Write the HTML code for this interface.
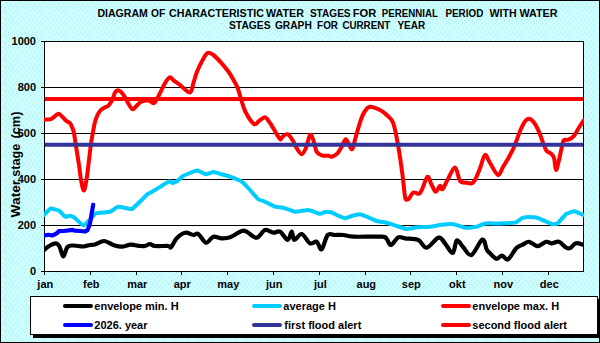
<!DOCTYPE html>
<html><head><meta charset="utf-8"><style>
html,body{margin:0;padding:0;background:#CCFFFF;}
svg{display:block;}
text{font-family:"Liberation Sans",sans-serif;font-weight:bold;fill:#000;}
</style></head><body>
<svg width="600" height="343" viewBox="0 0 600 343">
<defs>
<pattern id="dots" width="12" height="12" patternUnits="userSpaceOnUse"><rect width="12" height="12" fill="#CCFFFF"/><rect x="1" y="1" width="1" height="1" fill="#B2E6EF"/><rect x="5" y="0" width="1" height="1" fill="#B2E6EF"/><rect x="9" y="2" width="1" height="1" fill="#B2E6EF"/><rect x="3" y="4" width="1" height="1" fill="#B2E6EF"/><rect x="7" y="5" width="1" height="1" fill="#B2E6EF"/><rect x="11" y="6" width="1" height="1" fill="#B2E6EF"/><rect x="0" y="8" width="1" height="1" fill="#B2E6EF"/><rect x="4" y="9" width="1" height="1" fill="#B2E6EF"/><rect x="8" y="8" width="1" height="1" fill="#B2E6EF"/><rect x="2" y="11" width="1" height="1" fill="#B2E6EF"/><rect x="6" y="11" width="1" height="1" fill="#B2E6EF"/><rect x="10" y="10" width="1" height="1" fill="#B2E6EF"/><rect x="6" y="2" width="1" height="1" fill="#B2E6EF"/><rect x="10" y="4" width="1" height="1" fill="#B2E6EF"/><rect x="1" y="6" width="1" height="1" fill="#B2E6EF"/><rect x="5" y="7" width="1" height="1" fill="#B2E6EF"/></pattern>
<clipPath id="plotclip"><rect x="44" y="41" width="540" height="230"/></clipPath>
</defs>
<rect x="0" y="0" width="600" height="343" fill="url(#dots)"/>
<rect x="0.5" y="0.5" width="599" height="342" fill="none" stroke="#000" stroke-width="1"/>
<rect x="44" y="41" width="540" height="230" fill="#fff"/>
<g stroke="#000" stroke-width="1" shape-rendering="crispEdges"><line x1="44" y1="225.5" x2="584" y2="225.5"/><line x1="44" y1="179.5" x2="584" y2="179.5"/><line x1="44" y1="133.5" x2="584" y2="133.5"/><line x1="44" y1="87.5" x2="584" y2="87.5"/><line x1="41" y1="271.5" x2="44" y2="271.5"/><line x1="41" y1="225.5" x2="44" y2="225.5"/><line x1="41" y1="179.5" x2="44" y2="179.5"/><line x1="41" y1="133.5" x2="44" y2="133.5"/><line x1="41" y1="87.5" x2="44" y2="87.5"/><line x1="41" y1="41.5" x2="44" y2="41.5"/><line x1="44.5" y1="272" x2="44.5" y2="275"/><line x1="90.5" y1="272" x2="90.5" y2="275"/><line x1="136.5" y1="272" x2="136.5" y2="275"/><line x1="181.5" y1="272" x2="181.5" y2="275"/><line x1="227.5" y1="272" x2="227.5" y2="275"/><line x1="273.5" y1="272" x2="273.5" y2="275"/><line x1="319.5" y1="272" x2="319.5" y2="275"/><line x1="365.5" y1="272" x2="365.5" y2="275"/><line x1="410.5" y1="272" x2="410.5" y2="275"/><line x1="456.5" y1="272" x2="456.5" y2="275"/><line x1="502.5" y1="272" x2="502.5" y2="275"/><line x1="548.5" y1="272" x2="548.5" y2="275"/>
<line x1="44.5" y1="41" x2="44.5" y2="272"/>
<line x1="44" y1="271.5" x2="584" y2="271.5"/>
<line x1="44" y1="41.5" x2="584" y2="41.5"/>
<line x1="583.5" y1="41" x2="583.5" y2="271"/>
</g>
<g fill="none" stroke-linejoin="round" stroke-linecap="round" clip-path="url(#plotclip)">
<path d="M44.0 250.0 C45.0 249.2 48.0 246.6 50.0 245.5 C52.0 244.4 54.2 243.1 55.8 243.3 C57.4 243.5 58.2 244.3 59.5 246.5 C60.8 248.7 62.0 256.4 63.3 256.5 C64.6 256.6 65.8 248.8 67.5 247.0 C69.2 245.2 70.7 245.6 73.3 245.5 C75.9 245.4 80.5 246.6 83.3 246.5 C86.1 246.4 88.0 245.3 90.0 245.0 C92.0 244.7 92.6 245.2 95.0 244.5 C97.4 243.8 101.2 240.9 104.2 241.0 C107.2 241.1 110.4 244.1 113.3 245.0 C116.2 245.9 118.8 246.8 121.7 246.7 C124.6 246.6 127.8 244.8 130.8 244.7 C133.9 244.6 137.6 245.8 140.0 246.0 C142.4 246.2 143.3 246.3 145.0 246.0 C146.7 245.7 148.3 244.0 150.0 244.0 C151.7 244.0 151.9 245.7 155.0 246.0 C158.1 246.3 165.6 245.8 168.3 246.0 C171.0 246.2 169.6 248.6 171.0 247.3 C172.4 246.0 174.4 240.7 176.7 238.3 C179.0 235.9 182.2 233.2 185.0 232.7 C187.8 232.1 191.1 234.8 193.3 235.0 C195.5 235.2 196.2 232.7 198.3 234.0 C200.4 235.3 203.5 242.2 206.0 242.7 C208.5 243.1 210.7 237.4 213.3 236.7 C215.9 236.0 218.9 238.2 221.7 238.3 C224.5 238.4 226.7 238.5 230.0 237.3 C233.3 236.1 238.9 231.9 241.7 231.0 C244.5 230.1 244.2 230.6 246.7 231.7 C249.2 232.8 253.6 238.0 256.7 237.7 C259.8 237.4 262.2 230.8 265.0 230.0 C267.8 229.2 270.8 232.4 273.3 232.7 C275.8 233.0 277.6 230.5 280.0 231.7 C282.4 232.9 285.8 240.0 287.7 240.0 C289.6 240.0 290.6 231.7 291.7 231.7 C292.8 231.7 292.6 239.6 294.3 240.0 C296.0 240.4 299.1 233.4 301.7 234.0 C304.3 234.6 307.5 242.0 310.0 243.3 C312.5 244.6 314.8 240.7 316.7 241.7 C318.6 242.7 319.9 250.4 321.7 249.3 C323.5 248.2 325.5 237.4 327.7 235.0 C329.9 232.6 332.4 235.0 335.0 235.0 C337.6 235.0 340.2 234.7 343.3 235.0 C346.4 235.3 346.9 236.4 353.3 236.7 C359.7 237.0 376.1 236.3 381.7 236.7 C387.3 237.1 385.1 237.6 386.7 239.0 C388.2 240.4 389.1 245.3 391.0 245.0 C392.9 244.7 396.0 238.4 398.3 237.3 C400.6 236.2 401.7 237.9 405.0 238.3 C408.3 238.8 414.7 238.4 418.3 240.0 C421.9 241.6 423.3 248.1 426.7 247.7 C430.1 247.3 435.4 238.3 438.5 237.6 C441.6 236.9 442.6 240.7 445.0 243.3 C447.4 245.9 450.7 253.5 452.7 253.0 C454.7 252.5 455.1 241.3 456.9 240.4 C458.7 239.5 460.9 244.9 463.3 247.3 C465.7 249.7 468.3 256.3 471.5 255.0 C474.7 253.7 479.9 240.5 482.4 239.6 C484.9 238.7 485.4 247.2 486.7 249.5 C488.0 251.8 488.4 251.8 490.0 253.3 C491.6 254.9 494.6 258.4 496.6 258.8 C498.6 259.2 500.1 255.4 502.0 255.5 C503.9 255.6 505.6 260.6 508.0 259.4 C510.4 258.2 513.9 250.6 516.4 248.1 C518.9 245.6 521.2 245.4 523.3 244.3 C525.4 243.2 526.8 241.5 529.2 241.8 C531.6 242.1 534.8 246.1 537.6 246.1 C540.4 246.1 543.7 242.3 546.1 241.8 C548.5 241.3 549.7 243.3 551.8 243.3 C553.9 243.3 556.5 241.1 558.9 241.8 C561.3 242.5 564.1 246.4 566.0 247.5 C567.9 248.6 568.6 248.8 570.2 248.1 C571.9 247.4 573.8 243.9 575.9 243.3 C578.0 242.7 581.8 244.5 583.0 244.7" stroke="#000" stroke-width="4.2"/>
<path d="M44.0 215.0 C44.5 214.6 49.8 208.8 50.8 208.5 C51.8 208.2 58.3 210.3 59.2 210.8 C60.1 211.3 64.3 216.4 65.0 216.7 C65.7 217.0 69.4 215.7 70.0 215.8 C70.6 215.9 73.3 216.9 74.2 217.5 C75.1 218.1 82.4 225.4 83.5 225.5 C84.6 225.6 89.2 220.3 90.0 219.5 C90.8 218.7 94.5 213.8 95.8 213.3 C97.1 212.8 108.5 212.2 110.0 211.8 C111.5 211.4 116.6 207.0 118.0 206.8 C119.4 206.6 130.2 209.4 131.7 209.0 C133.2 208.6 139.7 201.8 140.8 200.8 C141.9 199.8 146.6 194.9 147.5 194.2 C148.4 193.5 154.1 190.6 155.0 190.0 C155.9 189.4 160.8 186.4 161.7 185.8 C162.6 185.2 168.5 181.5 169.2 181.3 C169.9 181.1 171.9 183.0 172.5 183.0 C173.1 183.0 176.8 181.3 177.5 180.8 C178.2 180.3 182.5 176.3 183.3 175.8 C184.1 175.3 189.1 173.4 190.0 173.0 C190.9 172.6 196.4 170.4 197.5 170.5 C198.6 170.6 204.7 174.1 205.8 174.2 C206.9 174.3 212.2 172.0 213.3 172.0 C214.4 172.0 220.6 173.9 221.7 174.2 C222.8 174.5 228.7 176.2 230.0 176.7 C231.3 177.2 240.4 180.8 241.7 181.7 C243.0 182.6 248.9 188.8 250.0 190.0 C251.1 191.2 257.3 198.5 258.3 199.3 C259.3 200.1 263.9 201.2 265.0 201.7 C266.1 202.2 273.8 206.3 275.0 206.7 C276.2 207.1 282.0 207.4 283.3 207.7 C284.6 208.0 293.3 211.5 295.0 211.7 C296.7 211.9 306.6 209.9 308.3 210.0 C310.0 210.1 318.9 213.7 320.0 213.8 C321.1 213.9 324.3 212.1 325.0 212.0 C325.7 211.9 330.2 212.0 331.0 212.2 C331.8 212.4 335.8 214.6 336.7 215.0 C337.6 215.4 344.0 218.2 345.0 218.3 C346.0 218.4 350.7 216.3 351.7 216.0 C352.7 215.7 359.0 214.3 360.0 214.3 C361.0 214.3 365.6 216.3 366.7 216.7 C367.8 217.1 375.4 220.6 376.7 221.0 C378.0 221.4 385.4 222.4 386.7 222.7 C388.0 223.0 395.4 225.6 396.7 226.0 C398.0 226.4 405.4 228.9 406.7 229.0 C408.0 229.1 415.1 227.5 416.7 227.3 C418.3 227.1 428.4 226.9 430.0 226.7 C431.6 226.5 439.8 225.0 441.3 224.8 C442.8 224.6 451.1 223.8 452.7 224.0 C454.3 224.2 463.8 227.5 465.4 227.7 C467.0 227.9 475.4 227.1 476.7 226.8 C478.0 226.5 483.6 223.6 485.2 223.4 C486.8 223.2 498.8 223.5 500.8 223.4 C502.8 223.3 513.6 222.9 515.0 222.6 C516.4 222.3 520.9 218.7 521.7 218.3 C522.5 217.9 526.6 216.9 527.7 216.9 C528.8 216.9 536.0 217.3 537.6 217.8 C539.2 218.3 550.5 223.6 551.8 224.0 C553.1 224.4 556.6 224.1 557.5 223.4 C558.4 222.7 564.9 214.9 566.0 214.1 C567.1 213.3 573.4 211.1 574.5 211.2 C575.6 211.3 582.4 214.7 583.0 214.9" stroke="#00CCFF" stroke-width="4"/>
<path d="M44.0 119.5 C45.0 119.5 48.3 119.7 50.0 119.3 C51.7 118.9 52.6 117.9 54.0 117.0 C55.4 116.1 57.1 113.8 58.4 113.7 C59.7 113.6 60.6 115.3 62.0 116.5 C63.4 117.7 65.2 119.9 66.5 121.0 C67.8 122.1 69.1 122.0 70.0 123.0 C70.9 124.0 71.3 125.3 72.0 127.0 C72.7 128.7 73.4 130.0 74.0 133.0 C74.6 136.0 75.2 141.3 75.8 145.0 C76.4 148.7 76.9 151.7 77.4 155.0 C77.9 158.3 78.4 161.0 79.0 165.0 C79.6 169.0 80.1 174.7 80.9 179.0 C81.7 183.3 82.8 190.6 83.8 190.6 C84.8 190.6 85.8 183.3 86.6 179.0 C87.4 174.7 87.7 170.7 88.4 165.0 C89.1 159.3 90.1 150.3 90.8 145.0 C91.5 139.7 92.1 136.8 92.8 133.0 C93.5 129.2 94.2 125.0 95.0 122.0 C95.8 119.0 96.6 117.0 97.5 115.0 C98.4 113.0 99.3 111.5 100.5 110.3 C101.7 109.1 103.3 108.3 104.5 107.6 C105.7 106.9 106.8 106.9 107.8 106.2 C108.8 105.5 109.5 104.4 110.3 103.2 C111.1 102.0 112.0 100.6 112.8 98.8 C113.6 97.0 114.1 93.8 115.1 92.4 C116.0 91.0 117.2 90.1 118.5 90.4 C119.8 90.7 121.7 92.4 123.2 94.4 C124.8 96.4 126.2 100.0 127.8 102.5 C129.3 105.0 131.0 108.7 132.5 109.2 C134.0 109.8 135.2 107.0 136.6 105.8 C138.0 104.6 139.2 102.7 141.2 101.8 C143.2 100.9 146.5 100.3 148.6 100.5 C150.7 100.7 152.1 103.8 153.7 103.2 C155.3 102.6 156.2 100.3 158.0 97.1 C159.8 93.8 162.8 87.0 164.7 83.7 C166.6 80.4 167.9 77.8 169.5 77.3 C171.1 76.8 172.4 79.5 174.2 80.8 C175.9 82.1 177.4 83.0 180.0 85.0 C182.6 87.0 187.8 92.8 190.0 92.5 C192.2 92.2 192.2 86.6 193.3 83.3 C194.4 80.0 195.3 76.1 196.7 72.5 C198.1 68.9 199.9 65.0 201.7 61.7 C203.5 58.5 205.6 54.1 207.5 53.0 C209.4 51.9 210.9 53.3 213.3 55.0 C215.7 56.7 219.2 60.5 221.7 63.3 C224.2 66.0 226.4 68.9 228.3 71.5 C230.2 74.1 231.5 76.3 233.0 79.0 C234.5 81.7 236.2 84.2 237.5 87.5 C238.8 90.8 239.7 94.9 241.0 99.0 C242.3 103.1 243.3 107.8 245.5 112.0 C247.7 116.2 251.8 122.5 254.0 124.0 C256.2 125.5 257.2 122.1 259.0 121.0 C260.8 119.9 263.2 117.0 265.0 117.3 C266.8 117.6 268.6 121.2 270.0 123.0 C271.4 124.8 271.6 125.6 273.3 128.3 C275.0 131.0 278.5 137.6 280.0 139.0 C281.5 140.4 281.2 137.5 282.5 136.7 C283.8 135.9 285.8 133.6 287.5 134.2 C289.2 134.8 291.0 137.7 292.5 140.0 C294.0 142.3 295.2 145.9 296.7 148.3 C298.2 150.7 300.2 154.2 301.7 154.2 C303.2 154.2 304.4 151.5 305.8 148.3 C307.2 145.1 308.8 136.4 310.0 135.0 C311.2 133.6 312.2 137.2 313.3 140.0 C314.4 142.8 315.3 149.1 316.7 151.7 C318.1 154.2 319.8 154.6 321.7 155.3 C323.6 156.0 326.6 155.6 328.3 155.8 C330.0 156.0 330.2 157.1 331.7 156.7 C333.2 156.3 335.8 155.0 337.5 153.3 C339.2 151.6 340.3 149.0 341.7 146.7 C343.1 144.3 344.4 139.2 345.8 139.2 C347.2 139.2 348.9 145.1 350.0 146.7 C351.1 148.3 351.5 150.4 352.5 148.7 C353.5 147.0 354.4 141.5 355.8 136.7 C357.2 131.9 359.3 124.3 360.8 120.0 C362.3 115.7 363.5 113.2 365.0 111.0 C366.5 108.8 367.5 106.9 370.0 106.7 C372.5 106.5 377.2 108.6 380.0 110.0 C382.8 111.4 384.5 112.8 386.7 115.0 C388.9 117.2 391.4 118.0 393.3 123.3 C395.2 128.6 396.8 138.1 398.3 146.7 C399.8 155.3 401.4 166.7 402.5 175.0 C403.6 183.3 404.3 192.6 405.0 196.7 C405.7 200.8 406.0 199.4 406.7 199.7 C407.4 200.0 408.1 199.5 409.2 198.3 C410.3 197.1 411.6 193.3 413.3 192.5 C415.0 191.7 417.7 194.4 419.2 193.7 C420.7 193.0 421.1 191.1 422.5 188.3 C423.9 185.5 426.0 177.2 427.5 176.7 C429.0 176.1 430.3 182.5 431.7 185.0 C433.1 187.5 434.4 191.6 435.8 191.7 C437.2 191.8 438.9 186.2 440.0 185.8 C441.1 185.4 441.2 190.2 442.5 189.2 C443.8 188.2 445.4 183.6 447.5 180.0 C449.6 176.4 452.9 167.4 455.0 167.5 C457.1 167.6 458.1 178.2 460.0 180.8 C461.9 183.4 464.8 182.4 466.7 182.8 C468.6 183.2 470.3 183.8 471.7 183.3 C473.1 182.8 473.6 182.5 475.0 180.0 C476.4 177.5 478.3 172.5 480.0 168.3 C481.7 164.1 483.3 155.9 485.0 155.0 C486.7 154.1 487.8 159.7 490.0 163.0 C492.2 166.3 495.8 174.3 498.0 175.0 C500.2 175.7 501.2 170.0 503.0 167.0 C504.8 164.0 507.1 160.5 509.0 157.0 C510.9 153.5 512.7 150.2 514.5 146.0 C516.3 141.8 518.1 135.8 519.8 131.7 C521.5 127.6 523.3 123.9 524.8 121.7 C526.3 119.5 527.5 118.6 529.0 118.7 C530.5 118.8 532.3 120.3 534.0 122.5 C535.7 124.7 537.5 128.2 539.0 131.7 C540.5 135.2 542.0 140.1 543.2 143.3 C544.5 146.5 545.2 149.1 546.5 150.8 C547.8 152.5 549.5 152.1 550.7 153.3 C552.0 154.5 553.1 155.2 554.0 158.0 C554.9 160.8 555.2 169.7 556.0 170.0 C556.8 170.3 558.0 164.2 559.0 160.0 C560.0 155.8 561.5 148.3 562.3 145.0 C563.1 141.7 563.0 140.9 564.0 140.0 C565.0 139.1 566.5 140.4 568.2 139.7 C569.9 139.0 572.2 137.8 574.0 135.8 C575.8 133.8 577.3 130.1 579.0 127.5 C580.7 124.9 583.2 121.2 584.0 120.0" stroke="#FF0000" stroke-width="4"/>
<path d="M44.0 235.3 L48.4 234.8 L52.0 235.5 L55.2 234.2 L57.4 232.8 L58.8 231.2 L63.7 231.0 L72.7 229.8 L74.5 230.6 L80.8 231.0 L84.9 231.5 L87.3 230.4 L89.0 226.5 L90.3 222.0 L91.8 212.8 L93.2 204.7" stroke="#0000FF" stroke-width="4.2"/>
<line x1="45" y1="144.75" x2="583" y2="144.75" stroke="#333399" stroke-width="4" stroke-linecap="butt"/>
<line x1="45" y1="99" x2="583" y2="99" stroke="#FF0000" stroke-width="4" stroke-linecap="butt"/>
</g>
<g font-size="10.2"><text x="97.4" y="16.6" textLength="50.5" lengthAdjust="spacingAndGlyphs">DIAGRAM</text><text x="151.1" y="16.6" textLength="14.2" lengthAdjust="spacingAndGlyphs">OF</text><text x="169.0" y="16.6" textLength="94.9" lengthAdjust="spacingAndGlyphs">CHARACTERISTIC</text><text x="266.1" y="16.6" textLength="37.8" lengthAdjust="spacingAndGlyphs">WATER</text><text x="309.9" y="16.6" textLength="40.7" lengthAdjust="spacingAndGlyphs">STAGES</text><text x="352.7" y="16.6" textLength="23.6" lengthAdjust="spacingAndGlyphs">FOR</text><text x="381.8" y="16.6" textLength="56.1" lengthAdjust="spacingAndGlyphs">PERENNIAL</text><text x="445.4" y="16.6" textLength="37.9" lengthAdjust="spacingAndGlyphs">PERIOD</text><text x="489.4" y="16.6" textLength="27.2" lengthAdjust="spacingAndGlyphs">WITH</text><text x="519.4" y="16.6" textLength="38.2" lengthAdjust="spacingAndGlyphs">WATER</text><text x="229.0" y="28.7" textLength="41.6" lengthAdjust="spacingAndGlyphs">STAGES</text><text x="274.9" y="28.7" textLength="36.9" lengthAdjust="spacingAndGlyphs">GRAPH</text><text x="317.1" y="28.7" textLength="20.9" lengthAdjust="spacingAndGlyphs">FOR</text><text x="342.4" y="28.7" textLength="47.9" lengthAdjust="spacingAndGlyphs">CURRENT</text><text x="397.4" y="28.7" textLength="27.8" lengthAdjust="spacingAndGlyphs">YEAR</text></g>
<g font-size="11"><text x="36" y="275.0" text-anchor="end">0</text><text x="36" y="229.0" text-anchor="end">200</text><text x="36" y="183.0" text-anchor="end">400</text><text x="36" y="137.0" text-anchor="end">600</text><text x="36" y="91.0" text-anchor="end">800</text><text x="36" y="45.0" text-anchor="end">1000</text></g>
<g font-size="13.3"><text transform="translate(19.8,217.4) rotate(-90)" textLength="37.6" lengthAdjust="spacingAndGlyphs">Water</text><text transform="translate(19.8,176.7) rotate(-90)" textLength="33" lengthAdjust="spacingAndGlyphs">stage</text><text transform="translate(19.8,138.5) rotate(-90)" textLength="27" lengthAdjust="spacingAndGlyphs">(cm)</text></g>
<g font-size="11"><text x="45.3" y="288" text-anchor="middle">jan</text><text x="91.3" y="288" text-anchor="middle">feb</text><text x="137.3" y="288" text-anchor="middle">mar</text><text x="182.3" y="288" text-anchor="middle">apr</text><text x="228.3" y="288" text-anchor="middle">may</text><text x="274.3" y="288" text-anchor="middle">jun</text><text x="320.3" y="288" text-anchor="middle">jul</text><text x="366.3" y="288" text-anchor="middle">aug</text><text x="411.3" y="288" text-anchor="middle">sep</text><text x="457.3" y="288" text-anchor="middle">okt</text><text x="503.3" y="288" text-anchor="middle">nov</text><text x="549.3" y="288" text-anchor="middle">dec</text></g>
<rect x="33" y="299" width="567" height="39" fill="#000"/>
<rect x="30.5" y="296.5" width="567" height="38" fill="#fff" stroke="#000" stroke-width="1"/>
<g stroke-width="4" stroke-linecap="round">
<line x1="65" y1="306" x2="91" y2="306" stroke="#000"/>
<line x1="65" y1="325" x2="91" y2="325" stroke="#0000FF"/>
<line x1="254" y1="306" x2="280" y2="306" stroke="#00CCFF"/>
<line x1="254" y1="325" x2="280" y2="325" stroke="#333399"/>
<line x1="443" y1="306" x2="469" y2="306" stroke="#FF0000"/>
<line x1="443" y1="325" x2="469" y2="325" stroke="#FF0000"/>
</g>
<g font-size="11">
<text x="94.3" y="310">envelope min. H</text>
<text x="94.3" y="328.8">2026. year</text>
<text x="283.3" y="310">average H</text>
<text x="284.3" y="328.8">first flood alert</text>
<text x="472.3" y="310">envelope max. H</text>
<text x="472.3" y="328.8">second flood alert</text>
</g>
</svg>
</body></html>
